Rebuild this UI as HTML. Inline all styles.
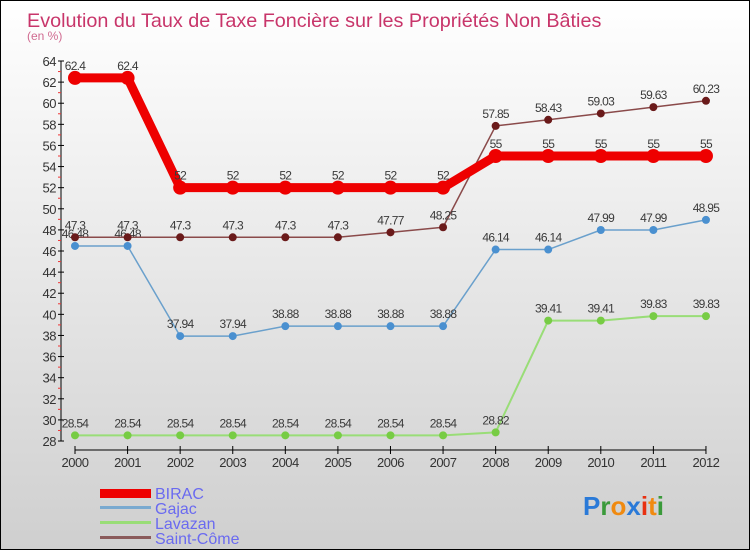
<!DOCTYPE html>
<html><head><meta charset="utf-8"><style>
body{margin:0}
#c{position:relative;width:750px;height:550px;box-sizing:border-box;border:1px solid #000;background:linear-gradient(#ffffff,#cfcfcf);overflow:hidden;font-family:"Liberation Sans",sans-serif}
</style></head><body>
<div id="c">
<svg id="s" width="750" height="550" style="position:absolute;left:-1px;top:-1px">
<text x="27" y="27" font-size="19.8" fill="#c8356a">Evolution du Taux de Taxe Foncière sur les Propriétés Non Bâties</text>
<text x="27" y="40" font-size="12" fill="#d06a90">(en %)</text>
<g id="axes"></g><g id="series"></g>
<g>
<rect x="100" y="489" width="51" height="9" fill="#e00"/>
<text x="155" y="499" font-size="16" fill="#6a6af0">BIRAC</text>
<rect x="100" y="506" width="51" height="3" fill="#7aaad0"/>
<text x="155" y="514" font-size="16" fill="#6a6af0">Gajac</text>
<rect x="100" y="521" width="51" height="3" fill="#99dd77"/>
<text x="155" y="529" font-size="16" fill="#6a6af0">Lavazan</text>
<rect x="100" y="536" width="51" height="3" fill="#8a5a5a"/>
<text x="155" y="544" font-size="16" fill="#6a6af0">Saint-Côme</text>
</g>
<g font-size="26" font-weight="bold">
<text x="583" y="515"><tspan fill="#2a7ad8">P</tspan><tspan fill="#3a9a3a">r</tspan><tspan fill="#f08a10">o</tspan><tspan fill="#2a7ad8">x</tspan><tspan fill="#e83010">i</tspan><tspan fill="#f08a10">t</tspan><tspan fill="#3a9a3a">i</tspan></text>
</g>
</svg>
</div>
<script>
const years=[2000,2001,2002,2003,2004,2005,2006,2007,2008,2009,2010,2011,2012];
const yTicks=[28,30,32,34,36,38,40,42,44,46,48,50,52,54,56,58,60,62,64];
const birac=[62.4,62.4,52,52,52,52,52,52,55,55,55,55,55];
const gajac=[46.48,46.48,37.94,37.94,38.88,38.88,38.88,38.88,46.14,46.14,47.99,47.99,48.95];
const lavazan=[28.54,28.54,28.54,28.54,28.54,28.54,28.54,28.54,28.82,39.41,39.41,39.83,39.83];
const saintCome=[47.3,47.3,47.3,47.3,47.3,47.3,47.77,48.25,57.85,58.43,59.03,59.63,60.23];
const NS="http://www.w3.org/2000/svg";
const X=i=>75+i*52.58, Y=v=>61+(64-v)*10.556;
function mk(t,a,p){const e=document.createElementNS(NS,t);for(const k in a)e.setAttribute(k,a[k]);p.appendChild(e);return e;}
const ax=document.getElementById('axes'), sg=document.getElementById('series');
let e=mk('line',{x1:61,y1:Y(64),x2:61,y2:Y(28),stroke:'#000'},ax);


const yMax=yTicks[yTicks.length-1];
yTicks.forEach(v=>{
 mk('line',{x1:58,y1:Y(v),x2:64,y2:Y(v),stroke:'#000'},ax);
 if(v<yMax) mk('line',{x1:58,y1:Y(v+1),x2:61,y2:Y(v+1),stroke:'#e33'},ax);
 const t=mk('text',{x:56,y:Y(v)+5,'font-size':13,fill:'#333','text-anchor':'end','letter-spacing':'-0.5'},ax);
 t.textContent=v;
 
 
});
e=mk('line',{x1:75,y1:450,x2:706,y2:450,stroke:'#000'},ax);


years.forEach((y,i)=>{
 mk('line',{x1:X(i),y1:446,x2:X(i),y2:454,stroke:'#000'},ax);
 const t=mk('text',{x:X(i),y:467,'font-size':13,fill:'#333','text-anchor':'middle','letter-spacing':'-0.5'},ax);
 t.textContent=y;
 
 
});
function series(d,name,col,w,r,dot){
 const g=mk('g',{},sg);
 
 
 mk('polyline',{points:d.map((v,i)=>X(i)+','+Y(v)).join(' '),fill:'none',stroke:col,'stroke-width':w,'stroke-linejoin':'round'},g);
 d.forEach((v,i)=>{
  const c=mk('circle',{cx:X(i),cy:Y(v),r:r,fill:dot},g);
  
  
  const t=mk('text',{x:X(i),y:Y(v)-8,'font-size':12,fill:'#3a3a3a','text-anchor':'middle','letter-spacing':'-0.7'},g);
  t.textContent=v;
  
  
 });
}
series(lavazan,'lavazan','#99dd77',2,4,'#77cc44');
series(gajac,'gajac','#6aa0cc',1.5,4,'#4a90d0');
series(saintCome,'saint-come','#8a4a4a',1.5,4,'#6a1a1a');
series(birac,'birac','#ee0000',9,7,'#ee0000');
</script>
</body></html>
